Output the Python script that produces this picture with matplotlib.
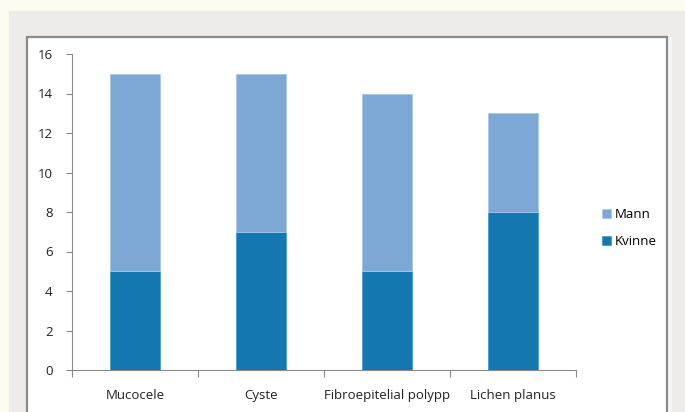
import matplotlib
matplotlib.use("Agg")
import matplotlib.pyplot as plt
import numpy as np
from matplotlib.patches import Rectangle

# Counts per diagnosis, split by sex
categories = ['Mucocele', 'Cyste', 'Fibroepitelial polypp', 'Lichen planus']
kvinne = [5, 7, 5, 8]
mann = [10, 8, 9, 5]

plt.rcParams['font.family'] = ['Open Sans', 'DejaVu Sans']

W, H = 685, 412
fig = plt.figure(figsize=(W / 100, H / 100), dpi=100)
fig.patch.set_facecolor('#FDFBF0')

# grey panel and white chart box behind the axes
fig.patches.append(Rectangle((9 / W, 0), (W - 9) / W, (H - 11) / H,
                             transform=fig.transFigure, facecolor='#EFEBE8',
                             edgecolor='none', zorder=0))
fig.patches.append(Rectangle((667 / W, 0), 5 / W, (H - 37) / H,
                             transform=fig.transFigure, facecolor='#F8F6F4',
                             edgecolor='none', zorder=0.5))
fig.patches.append(Rectangle((27 / W, -0.01), (667 - 27) / W, (H - 37) / H + 0.01,
                             transform=fig.transFigure, facecolor='white',
                             edgecolor='#8A8A8A', linewidth=1.6, zorder=1))

ax = fig.add_axes([72 / W, (H - 370) / H, (576 - 72) / W, (370 - 54) / H])
ax.set_zorder(3)
ax.set_facecolor('none')

x = np.arange(len(categories))
width = 0.4
b1 = ax.bar(x, kvinne, width, color='#1477B0', edgecolor='#4A9BD0', linewidth=0.6,
            label='Kvinne', zorder=3)
b2 = ax.bar(x, mann, width, bottom=kvinne, color='#7DA8D5', edgecolor='#A9C8E8',
            linewidth=0.6, label='Mann', zorder=3)

ax.set_xlim(-0.5, len(categories) - 0.5)
ax.set_ylim(0, 16)
ax.set_yticks(range(0, 17, 2))
ax.set_xticks(x)
ax.set_xticklabels(categories)
ax.set_xticks(np.arange(-0.5, len(categories), 1), minor=True)
ax.tick_params(axis='x', which='major', length=0, pad=14, labelsize=9.5, colors='#222222')
ax.tick_params(axis='x', which='minor', length=5, color='#8A8A8A', width=0.8)
ax.tick_params(axis='y', length=4, color='#8A8A8A', width=0.8, pad=10,
               labelsize=9.5, labelcolor='#222222')
for s in ['top', 'right']:
    ax.spines[s].set_visible(False)
for s in ['left', 'bottom']:
    ax.spines[s].set_color('#8A8A8A')
    ax.spines[s].set_linewidth(0.8)

handles = [b2, b1]
leg = fig.legend(handles, ['Mann', 'Kvinne'], loc='center left',
                 bbox_to_anchor=(590 / W, (H - 228) / H), frameon=False,
                 fontsize=9.5, handlelength=0.7, handleheight=0.7,
                 handletextpad=0.3, labelspacing=1.1)
leg.set_zorder(4)

fig.savefig('out.png', dpi=100, facecolor=fig.get_facecolor())
